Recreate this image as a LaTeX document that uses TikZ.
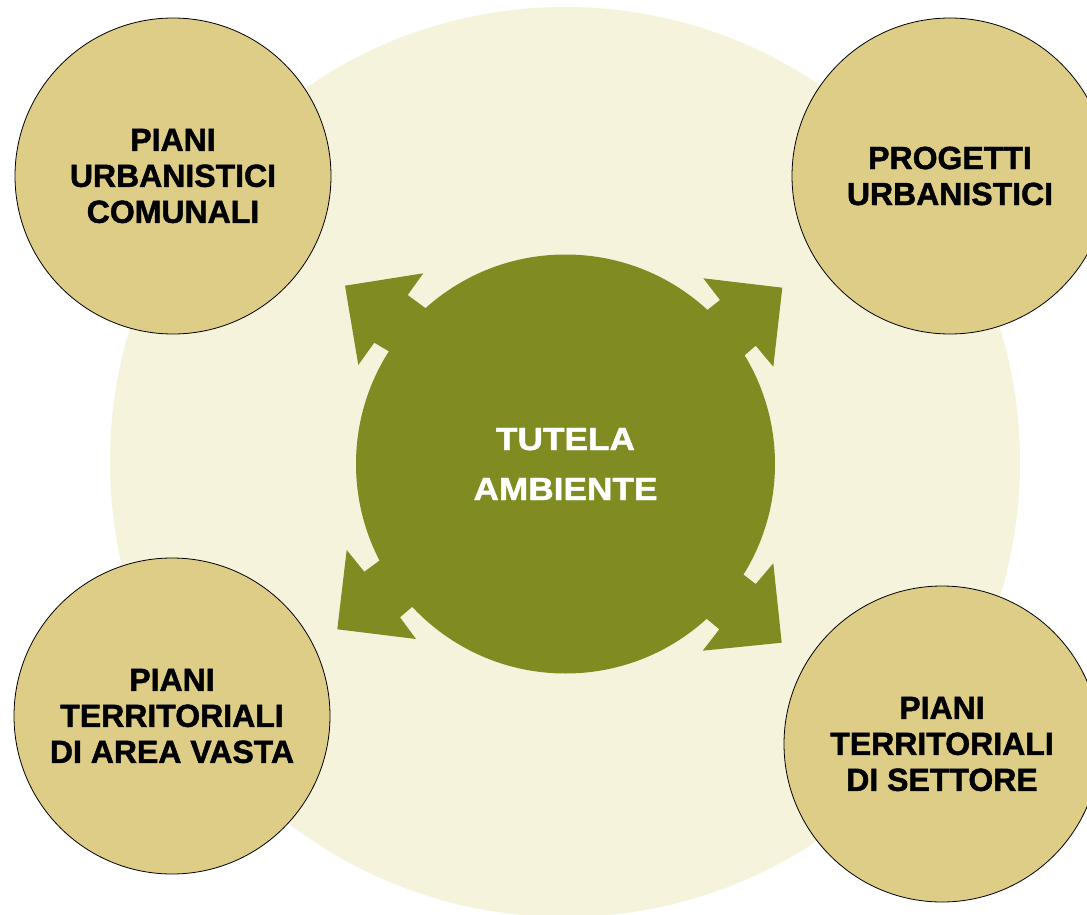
\documentclass[tikz,border=0pt]{standalone}
\usepackage{fontspec}
\usepackage{graphicx}
\setmainfont{Liberation Sans}
\newfontface\heavyfont{Liberation Sans Bold}[FakeBold=1.4]
\definecolor{palebg}{HTML}{F5F3DC}
\definecolor{tanfill}{HTML}{DDCD87}
\definecolor{olive}{HTML}{808C21}
\begin{document}
\begin{tikzpicture}[x=1pt,y=-1pt,
  topic/.style={circle, draw=black, line width=0.8pt, fill=tanfill, minimum size=316pt,
    inner sep=0pt, align=center, font=\fontsize{32}{36}\selectfont\heavyfont, text=black},
  core/.style={circle, fill=olive, minimum size=419pt, inner sep=0pt, align=center,
    font=\fontsize{32}{50}\selectfont\heavyfont, text=white},
  arrowfill/.style={fill=olive}]
\useasboundingbox (0,0) rectangle (1087,915);
\clip (0,0) rectangle (1087,915);
\fill[white] (0,0) rectangle (1087,915);
\fill[palebg] (565,462) circle[radius=455];
% arrows
\fill[arrowfill] (345,285.7) -- (423.3,273.3) -- (407.7,295) -- (443.7,321.6) -- (402.3,359.3) -- (374.3,342.7) -- (358.3,365) -- cycle;
\fill[arrowfill] (782.3,287.7) -- (703.3,278.3) -- (720,300) -- (694.6,320) -- (734.3,364.3) -- (755.7,345.7) -- (773.3,366.7) -- cycle;
\fill[arrowfill] (337.3,629.3) -- (346.7,550) -- (364.3,571.7) -- (394.3,549.7) -- (423.4,597.3) -- (400,617.3) -- (416,639) -- cycle;
\fill[arrowfill] (781.7,642.7) -- (773.3,563.3) -- (755.7,584) -- (732.3,566) -- (695.3,609.3) -- (719.3,629.3) -- (702.7,650.7) -- cycle;
\node[core] (tutela) at (565.5,464) {\scalebox{1.1}[1]{TUTELA}\\\scalebox{1.1}[1]{AMBIENTE}};
\node[topic] (pianiurb) at (173,176) {PIANI\\URBANISTICI\\COMUNALI};
\node[topic] (progetti) at (950,176) {PROGETTI\\URBANISTICI};
\node[topic] (pianiarea) at (172,716) {PIANI\\TERRITORIALI\\DI AREA VASTA};
\node[topic] (pianisett) at (942,744) {PIANI\\TERRITORIALI\\DI SETTORE};
\end{tikzpicture}
\end{document}
